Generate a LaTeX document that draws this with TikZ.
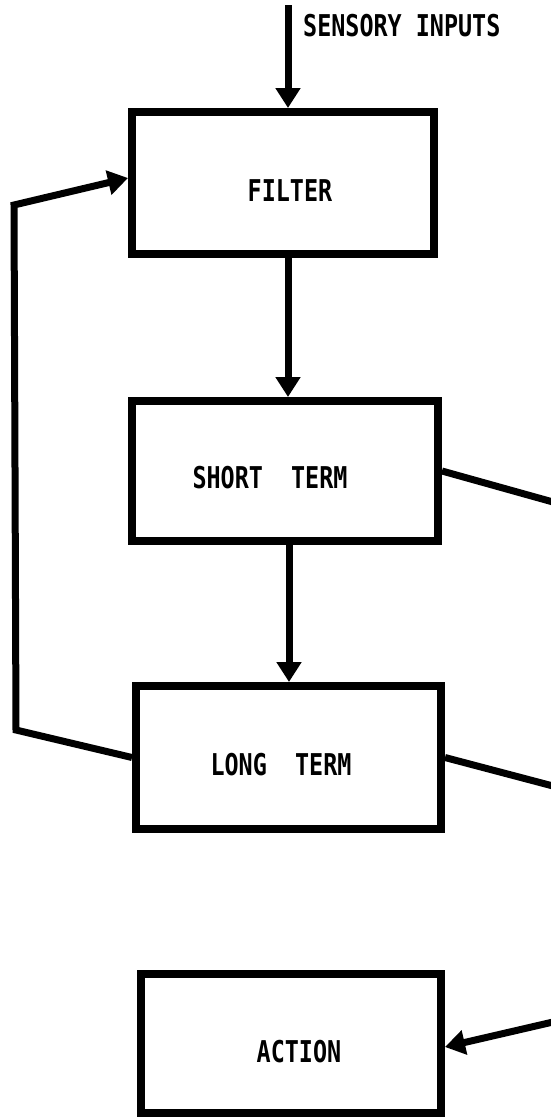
\documentclass[tikz,border=0pt]{standalone}
\usepackage{fontspec}
\usetikzlibrary{arrows.meta}
\newfontfamily\labfont[FakeStretch=0.78]{DejaVu Sans Mono}
\tikzset{
  boxst/.style={draw=black, line width=8pt, rectangle, inner sep=0pt},
  labst/.style={inner sep=0pt, font=\labfont\bfseries\fontsize{30}{30}\selectfont},
  conn/.style={draw=black, line width=7pt},
  arr/.style={conn, -{Triangle[length=20pt,width=24pt]}}
}
\begin{document}
\begin{tikzpicture}[x=1pt,y=-1pt]
\useasboundingbox (0,0) rectangle (550,1117);
% boxes
\node[boxst, minimum width=302pt, minimum height=142pt] (filter) at (283,183) {};
\node[boxst, minimum width=306pt, minimum height=140pt] (short) at (285,471) {};
\node[boxst, minimum width=305pt, minimum height=143pt] (long) at (288.5,757.5) {};
\node[boxst, minimum width=300pt, minimum height=139pt] (action) at (291,1043) {};
% labels
\node[labst] (filterlab) at (290,191) {FILTER};
\node[labst] (shortlab) at (270,478) {SHORT\ \ TERM};
\node[labst] (longlab) at (281,765) {LONG\ \ TERM};
\node[labst] (actionlab) at (299,1052) {ACTION};
\node[labst, anchor=west] (senslab) at (303,26) {SENSORY INPUTS};
% free ends
\coordinate (sin) at (288,5);
\coordinate (c1) at (16,730);
\coordinate (c2) at (14,205);
\coordinate (sr) at (553,502);
\coordinate (lr) at (553,786);
\coordinate (ar) at (553,1022);
% connectors
\draw[arr] (sin) -- (sin |- filter.north);
\draw[arr] (filter.south -| sin) -- (short.north -| sin);
\draw[arr] ([xshift=1pt]short.south -| sin) -- ([xshift=1pt]long.north -| sin);
\draw[arr] (long.west) -- (c1) -- (c2) -- ([yshift=5pt]filter.west);
\draw[conn] (short.east) -- (sr);
\draw[conn] (long.east) -- (lr);
\draw[arr] (ar) -- ([yshift=-4pt]action.east);
\end{tikzpicture}
\end{document}
